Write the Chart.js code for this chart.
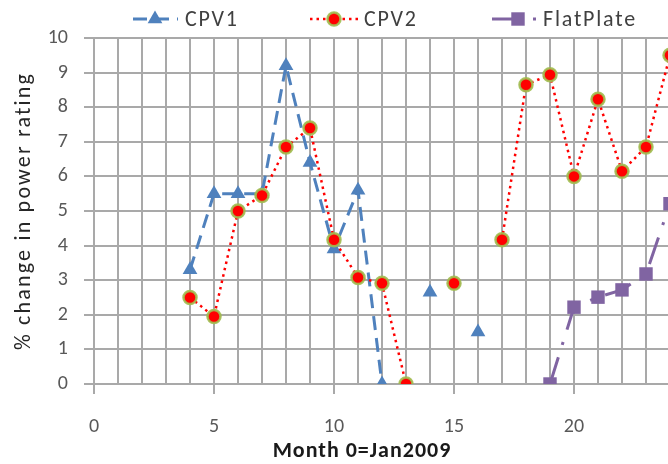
<!DOCTYPE html>
<html>
<head>
<meta charset="utf-8">
<script src="https://cdn.jsdelivr.net/npm/chart.js@4/dist/chart.umd.min.js"></script>
<style>
  html, body { margin: 0; padding: 0; background: #ffffff; overflow: hidden; }
  #wrap { width: 724px; height: 464px; }
</style>
</head>
<body>
<div id="wrap"><canvas id="chart" width="724" height="464"></canvas></div>
<script>
// Month index (0 = Jan 2009) and % change in power rating per technology
const months    = [4, 5, 6, 7, 8, 9, 10, 11, 12, 13, 14, 15, 16, 17, 18, 19, 20, 21, 22, 23, 24];
const cpv1      = [3.3, 5.5, 5.5, 5.5, 9.2, 6.4, 3.9, 5.6, 0, null, 2.65, null, 1.5, null, null, null, null, null, null, null, null];
const cpv2      = [2.5, 1.95, 5.0, 5.45, 6.85, 7.4, 4.17, 3.08, 2.91, 0, null, 2.91, null, 4.17, 8.65, 8.94, 6.0, 8.23, 6.15, 6.85, 9.5];
const flatPlate = [null, null, null, null, null, null, null, null, null, null, null, null, null, null, null, 0, 2.22, 2.51, 2.72, 3.18, 5.21];
const xTickLabels = [0, 5, 10, 15, 20];
const seriesNames = ['CPV1', 'CPV2', 'FlatPlate'];
const xTitle = 'Month 0=Jan2009';
const yTitle = '% change in power rating';

const FONT = 'Carlito, Lato, sans-serif';
const GRID = '#a9a9a9';

const toPoints = vals => months.map((m, i) => ({ x: m, y: vals[i] }));

// Legend and axis captions, drawn on top of the chart
const decor = {
  id: 'decor',
  afterDraw(chart) {
    const ctx = chart.ctx;
    const area = chart.chartArea;
    const y = 19;
    const layout = [
      { x0: 133, x1: 178, mx: 155, tx: 185 },
      { x0: 310, x1: 358, mx: 334, tx: 364 },
      { x0: 492, x1: 539, mx: 518, tx: 543 }
    ];
    chart.data.datasets.forEach((ds, i) => {
      const L = layout[i];
      ctx.save();
      ctx.strokeStyle = ds.borderColor;
      ctx.lineWidth = ds.borderWidth;
      ctx.lineCap = 'butt';
      ctx.setLineDash(ds.borderDash || []);
      ctx.beginPath();
      ctx.moveTo(L.x0, y);
      ctx.lineTo(L.x1, y);
      ctx.stroke();
      ctx.setLineDash([]);
      ctx.fillStyle = ds.pointBackgroundColor;
      ctx.strokeStyle = ds.pointBorderColor;
      ctx.lineWidth = ds.pointBorderWidth;
      Chart.helpers.drawPoint(ctx, {
        pointStyle: ds.pointStyle, radius: ds.pointRadius,
        rotation: 0, borderWidth: ds.pointBorderWidth
      }, L.mx, y);
      ctx.fillStyle = '#404040';
      ctx.font = '22px ' + FONT;
      ctx.letterSpacing = '1.8px';
      ctx.textAlign = 'left';
      ctx.textBaseline = 'middle';
      ctx.fillText(ds.label, L.tx, y + 1);
      ctx.restore();
    });

    // horizontal axis caption
    ctx.save();
    ctx.fillStyle = '#1a1a1a';
    ctx.font = 'bold 22px ' + FONT;
    ctx.letterSpacing = '1px';
    ctx.textAlign = 'center';
    ctx.textBaseline = 'middle';
    ctx.fillText(xTitle, 362, 451);
    ctx.restore();

    // vertical axis caption
    ctx.save();
    ctx.translate(24, (area.top + area.bottom) / 2);
    ctx.rotate(-Math.PI / 2);
    ctx.fillStyle = '#262626';
    ctx.font = '22px ' + FONT;
    ctx.letterSpacing = '2.2px';
    ctx.textAlign = 'center';
    ctx.textBaseline = 'middle';
    ctx.fillText(yTitle, 0, 0);
    ctx.restore();
  }
};

new Chart(document.getElementById('chart'), {
  type: 'line',
  data: {
    datasets: [
      {
        label: seriesNames[0],
        data: toPoints(cpv1),
        borderColor: '#4f81bd',
        borderWidth: 3,
        borderDash: [14, 8],
        pointStyle: 'triangle',
        pointRadius: 8.5,
        pointBackgroundColor: '#4f81bd',
        pointBorderColor: '#4f81bd',
        pointBorderWidth: 0,
        order: 1
      },
      {
        label: seriesNames[1],
        data: toPoints(cpv2),
        borderColor: '#ff0000',
        borderWidth: 2.5,
        borderDash: [2.5, 4],
        pointStyle: 'circle',
        pointRadius: 6.5,
        pointBackgroundColor: '#ff0000',
        pointBorderColor: 'rgba(160,190,80,0.9)',
        pointBorderWidth: 2.5,
        order: 0
      },
      {
        label: seriesNames[2],
        data: toPoints(flatPlate),
        borderColor: '#8064a2',
        borderWidth: 3,
        borderDash: [28, 13, 3, 13],
        pointStyle: 'rect',
        pointRadius: 9.5,
        pointBackgroundColor: '#8064a2',
        pointBorderColor: '#8064a2',
        pointBorderWidth: 0,
        order: 2
      }
    ]
  },
  options: {
    responsive: false,
    animation: false,
    events: [],
    layout: { padding: { top: 38, right: 30, left: 0, bottom: 0 } },
    plugins: { legend: { display: false }, tooltip: { enabled: false }, title: { display: false } },
    scales: {
      x: {
        type: 'linear',
        min: 0,
        max: 25,
        afterFit: s => { s.height = 80; },
        ticks: {
          stepSize: 1,
          autoSkip: false,
          maxRotation: 0,
          padding: 21,
          color: '#595959',
          font: { family: FONT, size: 20 },
          callback: v => (xTickLabels.includes(v) ? String(v) : '')
        },
        grid: {
          color: GRID,
          lineWidth: 2,
          tickLength: 10,
          tickColor: c => (c.tick && xTickLabels.includes(c.tick.value) ? GRID : 'rgba(0,0,0,0)')
        },
        border: { color: GRID, width: 2 }
      },
      y: {
        min: 0,
        max: 10,
        afterFit: s => { s.width = 94; },
        ticks: {
          stepSize: 1,
          padding: 16,
          color: '#595959',
          font: { family: FONT, size: 20 }
        },
        grid: { color: GRID, lineWidth: 2, tickLength: 10, tickColor: GRID },
        border: { color: GRID, width: 2 }
      }
    }
  },
  plugins: [decor]
});
</script>
</body>
</html>
